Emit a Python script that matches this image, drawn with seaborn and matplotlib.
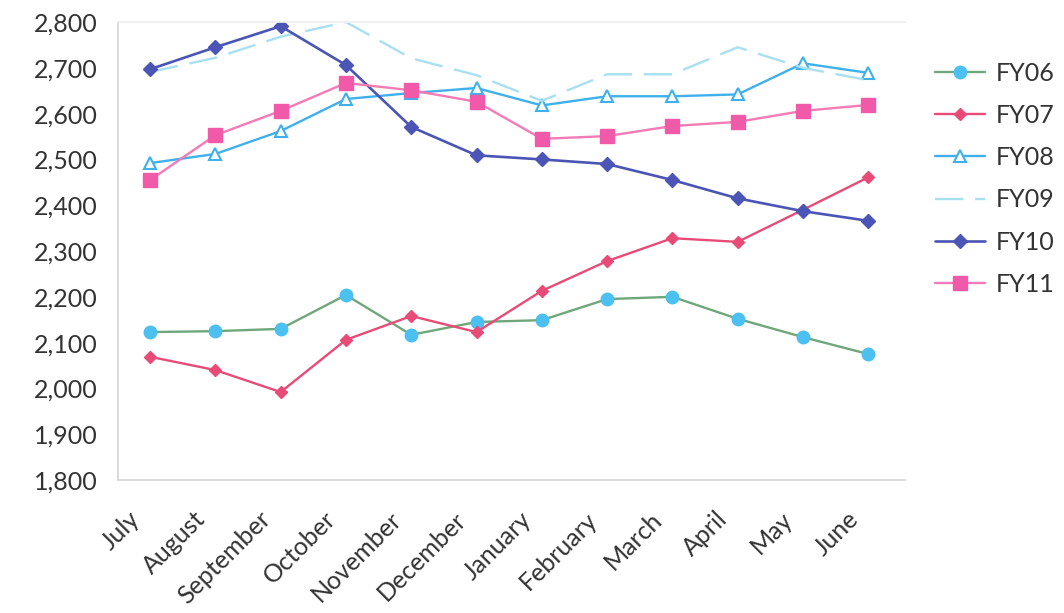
import matplotlib
matplotlib.use("Agg")
import matplotlib.pyplot as plt
import matplotlib.transforms as mtransforms
import seaborn as sns
import pandas as pd

months = ["July", "August", "September", "October", "November", "December",
          "January", "February", "March", "April", "May", "June"]

fy06 = [2123, 2125, 2130, 2204, 2117, 2145, 2149, 2195, 2200, 2152, 2112, 2075]
fy07 = [2069, 2040, 1992, 2106, 2158, 2123, 2213, 2278, 2328, 2320, 2390, 2461]
fy08 = [2492, 2512, 2562, 2632, 2645, 2656, 2618, 2638, 2638, 2642, 2710, 2689]
fy09 = [2691, 2722, 2768, 2800, 2721, 2684, 2628, 2686, 2686, 2745, 2700, 2673]
fy10 = [2697, 2745, 2791, 2706, 2571, 2509, 2500, 2490, 2455, 2415, 2387, 2366]
fy11 = [2455, 2553, 2606, 2667, 2651, 2626, 2545, 2551, 2573, 2582, 2606, 2619]

series_names = ["FY06", "FY07", "FY08", "FY09", "FY10", "FY11"]
series_values = [fy06, fy07, fy08, fy09, fy10, fy11]

rows = []
for name, vals in zip(series_names, series_values):
    for i, (m, v) in enumerate(zip(months, vals)):
        rows.append({"idx": i, "month": m, "series": name, "value": v})
df = pd.DataFrame(rows)

sns.set_theme(style="white")
plt.rcParams["font.family"] = ["Lato", "DejaVu Sans"]

styles = {
    "FY06": dict(color="#6fa77a", marker="o", mfc="#4cc0f0", mec="#4cc0f0", ms=9, lw=1.7),
    "FY07": dict(color="#e94b78", marker="D", mfc="#e94b78", mec="#e94b78", ms=6.5, lw=1.7),
    "FY08": dict(color="#3fb0ec", marker="^", mfc="white", mec="#3fb0ec", ms=9, lw=1.7, mew=1.5),
    "FY09": dict(color="#a8e0f2", marker=None, lw=1.7, dashes=(12, 5)),
    "FY10": dict(color="#4a55b5", marker="D", mfc="#4a55b5", mec="#4a55b5", ms=7, lw=1.9),
    "FY11": dict(color="#f47bb5", marker="s", mfc="#f05aa8", mec="#f05aa8", ms=10, lw=1.7),
}

fig = plt.figure(figsize=(10.64, 6.13), dpi=100)
ax = fig.add_axes([0.111, 0.217, 0.740, 0.747])

for name in series_names:
    st = dict(styles[name])
    sub = df[df["series"] == name]
    dashes = st.pop("dashes", None)
    sns.lineplot(data=sub, x="idx", y="value", ax=ax, label=name,
                 markeredgewidth=st.pop("mew", 1.0), **st)
    if dashes is not None:
        ax.lines[-1].set_dashes(dashes)

ax.set_xlim(-0.49, 11.57)
ax.set_ylim(1800, 2800)
ax.set_yticks(range(1800, 2801, 100))
ax.set_yticklabels([f"{v:,}" for v in range(1800, 2801, 100)], fontsize=18, color="#333333")
ax.set_xticks(range(len(months)))
ax.set_xticklabels(months, rotation=45, ha="right", rotation_mode="anchor",
                   fontsize=18, color="#333333")
ax.tick_params(axis="y", length=0, pad=15)
ax.tick_params(axis="x", length=0, pad=14)
ax.set_xlabel("")
ax.set_ylabel("")

# nudge the slanted month labels left and down
shift = mtransforms.ScaledTranslation(-0.22, -0.08, fig.dpi_scale_trans)
for lab in ax.get_xticklabels():
    lab.set_transform(lab.get_transform() + shift)

for side in ["left", "bottom"]:
    ax.spines[side].set_color("#d4d4d8")
    ax.spines[side].set_linewidth(1.2)
ax.spines["top"].set_color("#f0f0f0")
ax.spines["right"].set_visible(False)

ax.legend(loc="upper left", bbox_to_anchor=(0.858, 0.936),
          bbox_transform=fig.transFigure, frameon=False, fontsize=18,
          handlelength=2.0, labelspacing=0.77, handletextpad=0.4,
          labelcolor="#333333")

fig.savefig("out.png", dpi=100, facecolor="white")
